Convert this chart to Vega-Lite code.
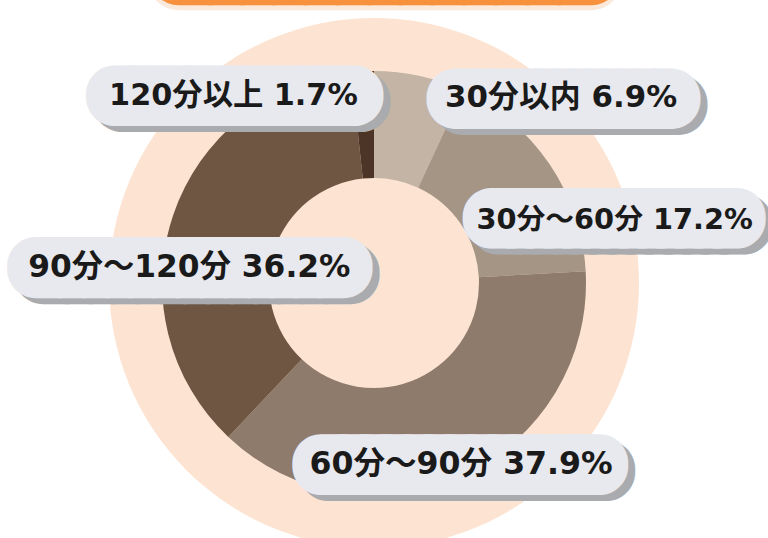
{
  "$schema": "https://vega.github.io/schema/vega-lite/v6.json",
  "autosize": "none",
  "width": 748,
  "height": 510,
  "padding": {"left": 0, "right": 20, "top": 28, "bottom": 0},
  "background": "#ffffff",
  "config": {"view": {"stroke": null}},
  "data": {"values": [
    {"cat": "30分以内", "pct": 6.9, "n": 1, "label": "30分以内 6.9%"},
    {"cat": "30分～60分", "pct": 17.2, "n": 2, "label": "30分～60分 17.2%"},
    {"cat": "60分～90分", "pct": 37.9, "n": 3, "label": "60分～90分 37.9%"},
    {"cat": "90分～120分", "pct": 36.2, "n": 4, "label": "90分～120分 36.2%"},
    {"cat": "120分以上", "pct": 1.7, "n": 5, "label": "120分以上 1.7%"}
  ]},
  "layer": [
    {
      "transform": [{"filter": "datum.n === 1"}],
      "mark": {"type": "arc", "theta": 0, "theta2": 6.2832, "innerRadius": 0, "outerRadius": 265, "fill": "#fde4d2"},
      "encoding": {}
    },
    {
      "encoding": {
        "theta": {"field": "pct", "type": "quantitative", "stack": true},
        "order": {"field": "n", "type": "quantitative"}
      },
      "layer": [
        {
          "mark": {"type": "arc", "innerRadius": 105, "outerRadius": 212},
          "encoding": {
            "color": {"field": "cat", "type": "nominal", "legend": null,
              "scale": {"domain": ["30分以内", "30分～60分", "60分～90分", "90分～120分", "120分以上"],
                        "range": ["#c4b4a5", "#a59585", "#8f7b6b", "#6e5643", "#4c3526"]}}
          }
        },

        {"mark": {"type": "text", "radius": 0, "dx": 11, "dy": -304, "font": "DejaVu Sans", "fontSize": 52.6, "fill": "#fbe9dc", "stroke": "#fbe9dc", "strokeWidth": 62, "strokeJoin": "round", "strokeCap": "round"},
         "encoding": {"text": {"condition": {"test": "datum.n === 1", "value": "─────────────"}, "value": ""}}},
        {"mark": {"type": "text", "radius": 0, "dx": 11, "dy": -307, "font": "DejaVu Sans", "fontSize": 52.6, "fill": "#f7913d", "stroke": "#f7913d", "strokeWidth": 58, "strokeJoin": "round", "strokeCap": "round"},
         "encoding": {"text": {"condition": {"test": "datum.n === 1", "value": "─────────────"}, "value": ""}}},

        {"mark": {"type": "text", "radius": 160, "dx": 162, "dy": -21, "font": "DejaVu Sans", "fontSize": 27.5, "fill": "#a9abae", "stroke": "#a9abae", "strokeWidth": 58, "strokeJoin": "round", "strokeCap": "round"},
         "encoding": {"text": {"condition": {"test": "datum.n === 1", "value": "─────────────"}, "value": ""}}},
        {"mark": {"type": "text", "radius": 160, "dx": 155, "dy": -27, "font": "DejaVu Sans", "fontSize": 27.5, "fill": "#e8e9ee", "stroke": "#e8e9ee", "strokeWidth": 58, "strokeJoin": "round", "strokeCap": "round"},
         "encoding": {"text": {"condition": {"test": "datum.n === 1", "value": "─────────────"}, "value": ""}}},
        {"mark": {"type": "text", "radius": 160, "dx": 152.6, "dy": -29.2, "font": "'DejaVu Sans', 'Noto Sans CJK JP', sans-serif", "fontSize": 30.9, "fontWeight": "bold", "fill": "#1a1a1a"},
         "encoding": {"text": {"condition": {"test": "datum.n === 1", "field": "label"}, "value": ""}}},

        {"mark": {"type": "text", "radius": 160, "dx": 114.7, "dy": 32.4, "font": "DejaVu Sans", "fontSize": 31.2, "fill": "#a9abae", "stroke": "#a9abae", "strokeWidth": 58, "strokeJoin": "round", "strokeCap": "round"},
         "encoding": {"text": {"condition": {"test": "datum.n === 2", "value": "─────────────"}, "value": ""}}},
        {"mark": {"type": "text", "radius": 160, "dx": 107.7, "dy": 26.4, "font": "DejaVu Sans", "fontSize": 31.2, "fill": "#e8e9ee", "stroke": "#e8e9ee", "strokeWidth": 58, "strokeJoin": "round", "strokeCap": "round"},
         "encoding": {"text": {"condition": {"test": "datum.n === 2", "value": "─────────────"}, "value": ""}}},
        {"mark": {"type": "text", "radius": 160, "dx": 108.2, "dy": 26.9, "font": "'DejaVu Sans', 'Noto Sans CJK JP', sans-serif", "fontSize": 28.8, "fontWeight": "bold", "fill": "#1a1a1a"},
         "encoding": {"text": {"condition": {"test": "datum.n === 2", "field": "label"}, "value": ""}}},

        {"mark": {"type": "text", "radius": 160, "dx": 25.8, "dy": 44, "font": "DejaVu Sans", "fontSize": 35.4, "fill": "#a9abae", "stroke": "#a9abae", "strokeWidth": 58, "strokeJoin": "round", "strokeCap": "round"},
         "encoding": {"text": {"condition": {"test": "datum.n === 3", "value": "─────────────"}, "value": ""}}},
        {"mark": {"type": "text", "radius": 160, "dx": 18.8, "dy": 38, "font": "DejaVu Sans", "fontSize": 35.4, "fill": "#e8e9ee", "stroke": "#e8e9ee", "strokeWidth": 58, "strokeJoin": "round", "strokeCap": "round"},
         "encoding": {"text": {"condition": {"test": "datum.n === 3", "value": "─────────────"}, "value": ""}}},
        {"mark": {"type": "text", "radius": 160, "dx": 19.8, "dy": 37, "font": "'DejaVu Sans', 'Noto Sans CJK JP', sans-serif", "fontSize": 31.6, "fontWeight": "bold", "fill": "#1a1a1a"},
         "encoding": {"text": {"condition": {"test": "datum.n === 3", "field": "label"}, "value": ""}}},

        {"mark": {"type": "text", "radius": 160, "dx": -25.6, "dy": 43.4, "font": "DejaVu Sans", "fontSize": 39.2, "fill": "#a9abae", "stroke": "#a9abae", "strokeWidth": 58, "strokeJoin": "round", "strokeCap": "round"},
         "encoding": {"text": {"condition": {"test": "datum.n === 4", "value": "─────────────"}, "value": ""}}},
        {"mark": {"type": "text", "radius": 160, "dx": -32.6, "dy": 37.4, "font": "DejaVu Sans", "fontSize": 39.2, "fill": "#e8e9ee", "stroke": "#e8e9ee", "strokeWidth": 58, "strokeJoin": "round", "strokeCap": "round"},
         "encoding": {"text": {"condition": {"test": "datum.n === 4", "value": "─────────────"}, "value": ""}}},
        {"mark": {"type": "text", "radius": 160, "dx": -33.1, "dy": 36.4, "font": "'DejaVu Sans', 'Noto Sans CJK JP', sans-serif", "fontSize": 31.3, "fontWeight": "bold", "fill": "#1a1a1a"},
         "encoding": {"text": {"condition": {"test": "datum.n === 4", "field": "label"}, "value": ""}}},

        {"mark": {"type": "text", "radius": 160, "dx": -124, "dy": -19.8, "font": "DejaVu Sans", "fontSize": 30.5, "fill": "#a9abae", "stroke": "#a9abae", "strokeWidth": 58, "strokeJoin": "round", "strokeCap": "round"},
         "encoding": {"text": {"condition": {"test": "datum.n === 5", "value": "─────────────"}, "value": ""}}},
        {"mark": {"type": "text", "radius": 160, "dx": -131, "dy": -25.8, "font": "DejaVu Sans", "fontSize": 30.5, "fill": "#e8e9ee", "stroke": "#e8e9ee", "strokeWidth": 58, "strokeJoin": "round", "strokeCap": "round"},
         "encoding": {"text": {"condition": {"test": "datum.n === 5", "value": "─────────────"}, "value": ""}}},
        {"mark": {"type": "text", "radius": 160, "dx": -132, "dy": -27.3, "font": "'DejaVu Sans', 'Noto Sans CJK JP', sans-serif", "fontSize": 30.3, "fontWeight": "bold", "fill": "#1a1a1a"},
         "encoding": {"text": {"condition": {"test": "datum.n === 5", "field": "label"}, "value": ""}}}
      ]
    }
  ]
}
